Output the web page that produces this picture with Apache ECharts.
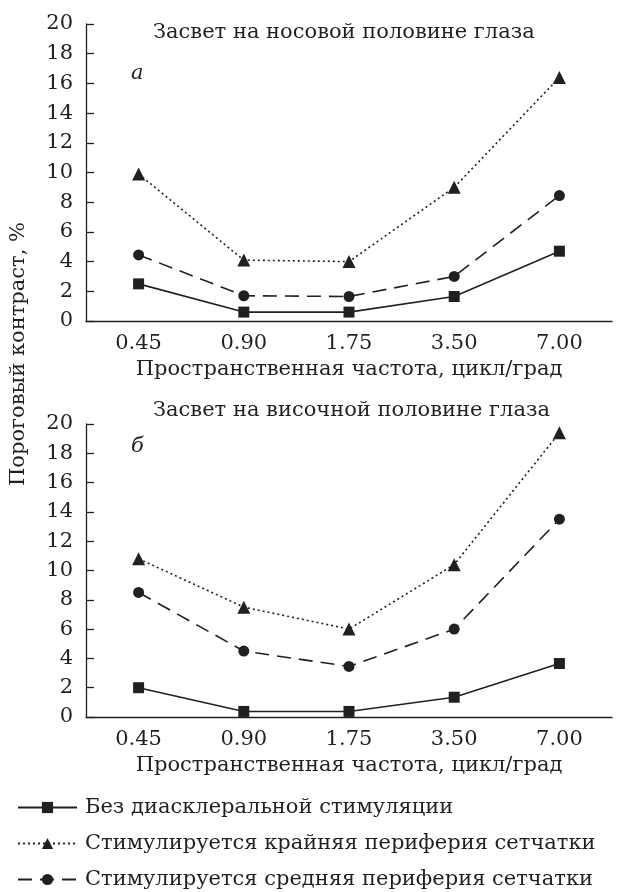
<!DOCTYPE html>
<html>
<head>
<meta charset="utf-8">
<script src="https://cdn.jsdelivr.net/npm/echarts@6/dist/echarts.min.js"></script>
<style>
  html, body { margin: 0; padding: 0; background: #fff; }
  #main { width: 618px; height: 892px; }
</style>
</head>
<body>
<div id="main"></div>
<script>
var chartDom = document.getElementById('main');
var myChart = echarts.init(chartDom);
var option;

let freqs = ['0.45', '0.90', '1.75', '3.50', '7.00'];
let seriesNames = [
  'Без диасклеральной стимуляции',
  'Стимулируется крайняя периферия сетчатки',
  'Стимулируется средняя периферия сетчатки'
];
// а — засвет на носовой половине глаза
let nasalNone = [2.5, 0.6, 0.6, 1.65, 4.7];
let nasalFar = [9.9, 4.1, 4.0, 9.0, 16.4];
let nasalMid = [4.45, 1.7, 1.65, 3.0, 8.45];
// б — засвет на височной половине глаза
let tempNone = [2.0, 0.38, 0.38, 1.35, 3.65];
let tempFar = [10.8, 7.5, 6.0, 10.4, 19.4];
let tempMid = [8.5, 4.5, 3.45, 6.0, 13.5];

let font = 'DejaVu Serif';
let fs = 21;
let ink = '#231f20';

function xAx(gi) {
  return {
    type: 'category', gridIndex: gi, data: freqs,
    name: 'Пространственная частота, цикл/град',
    nameLocation: 'middle', nameGap: 38,
    nameTextStyle: { fontFamily: font, fontSize: fs, color: ink },
    axisLine: { lineStyle: { color: ink, width: 1.3 } },
    axisTick: { inside: true, length: 8, lineStyle: { color: ink, width: 1.3 } },
    axisLabel: { fontFamily: font, fontSize: fs, color: ink, margin: 12 }
  };
}
function yAx(gi) {
  return {
    type: 'value', gridIndex: gi, min: 0, max: 20, interval: 2,
    splitLine: { show: false },
    axisLine: { show: true, lineStyle: { color: ink, width: 1.3 } },
    axisTick: { show: true, inside: true, length: 8, lineStyle: { color: ink, width: 1.3 } },
    axisLabel: { fontFamily: font, fontSize: fs, color: ink, margin: 13, lineHeight: 20 }
  };
}

let styles = [
  { symbol: 'rect', symbolSize: 11, dash: 'solid' },
  { symbol: 'triangle', symbolSize: 13, dash: [2, 3] },
  { symbol: 'circle', symbolSize: 11, dash: [14, 8] }
];

function mk(name, data, gi, st) {
  return {
    name: name, type: 'line', data: data,
    xAxisIndex: gi, yAxisIndex: gi,
    symbol: st.symbol, symbolSize: st.symbolSize,
    itemStyle: { color: ink },
    lineStyle: { color: ink, width: 1.6, type: st.dash },
    animation: false
  };
}

option = {
  backgroundColor: '#fff',
  title: [
    { text: 'Засвет на носовой половине глаза', left: 148, top: 17,
      textStyle: { fontFamily: font, fontSize: fs, fontWeight: 'normal', color: ink } },
    { text: 'Засвет на височной половине глаза', left: 148, top: 395,
      textStyle: { fontFamily: font, fontSize: fs, fontWeight: 'normal', color: ink } }
  ],
  grid: [
    { left: 86, right: 6, top: 24, height: 297 },
    { left: 86, right: 6, top: 424, height: 293 }
  ],
  xAxis: [xAx(0), xAx(1)],
  yAxis: [yAx(0), yAx(1)],
  legend: {
    orient: 'vertical', left: 17, top: 797, height: 95, padding: 0,
    itemWidth: 59, itemHeight: 14, itemGap: 15,
    data: seriesNames,
    textStyle: { fontFamily: font, fontSize: fs, color: ink, padding: [0, 0, 0, 3] }
  },
  graphic: [
    { type: 'text', rotation: Math.PI / 2, x: 19, y: 354,
      style: { text: 'Пороговый контраст, %', font: fs + 'px "DejaVu Serif"', fill: ink,
        textAlign: 'center', textVerticalAlign: 'middle' } },
    { type: 'text', x: 131, y: 63,
      style: { text: 'а', font: 'italic ' + fs + 'px "DejaVu Serif"', fill: ink } },
    { type: 'text', x: 131, y: 436,
      style: { text: 'б', font: 'italic ' + fs + 'px "DejaVu Serif"', fill: ink } }
  ],
  series: [
    mk(seriesNames[0], nasalNone, 0, styles[0]),
    mk(seriesNames[1], nasalFar, 0, styles[1]),
    mk(seriesNames[2], nasalMid, 0, styles[2]),
    mk(seriesNames[0], tempNone, 1, styles[0]),
    mk(seriesNames[1], tempFar, 1, styles[1]),
    mk(seriesNames[2], tempMid, 1, styles[2])
  ]
};

option && myChart.setOption(option);
</script>
</body>
</html>
